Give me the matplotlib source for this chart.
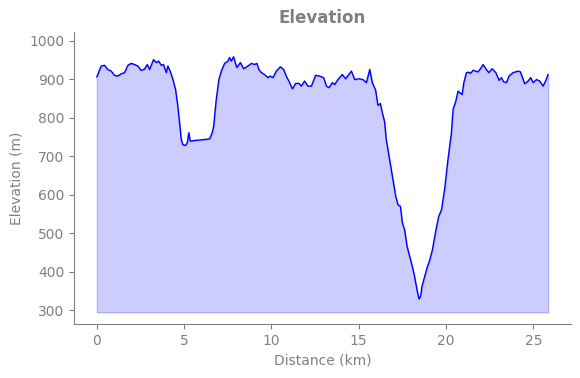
import matplotlib
matplotlib.use("Agg")
import matplotlib.pyplot as plt
import numpy as np

# distance (km) and elevation (m)
distance = [0.00, 0.25, 0.44, 0.63, 0.82, 1.01, 1.20, 1.40, 1.59, 1.78,
            1.97, 2.16, 2.35, 2.54, 2.73, 2.89, 3.02, 3.25, 3.40, 3.54,
            3.69, 3.82, 3.98, 4.07, 4.20, 4.36, 4.51, 4.64, 4.74, 4.84,
            4.93, 5.08, 5.18, 5.27, 5.35, 5.60, 6.08, 6.46, 6.61, 6.69,
            6.84, 6.99, 7.13, 7.32, 7.51, 7.60, 7.70, 7.83, 8.02, 8.22,
            8.41, 8.65, 8.85, 9.04, 9.17, 9.28, 9.42, 9.61, 9.80, 9.94,
            10.09, 10.28, 10.51, 10.70, 10.85, 11.00, 11.20, 11.39, 11.58, 11.71,
            11.90, 12.09, 12.29, 12.53, 12.76, 12.99, 13.15, 13.30, 13.49, 13.62,
            13.81, 14.06, 14.25, 14.58, 14.77, 15.01, 15.24, 15.44, 15.63, 15.78,
            15.97, 16.10, 16.24, 16.35, 16.48, 16.58, 16.77, 16.96, 17.12, 17.25,
            17.39, 17.50, 17.63, 17.77, 17.92, 18.07, 18.20, 18.34, 18.45, 18.55,
            18.62, 18.78, 18.91, 19.07, 19.22, 19.39, 19.58, 19.74, 19.93, 20.11,
            20.21, 20.31, 20.40, 20.56, 20.69, 20.79, 20.92, 21.02, 21.17, 21.32,
            21.40, 21.55, 21.83, 21.97, 22.12, 22.31, 22.45, 22.64, 22.85, 23.04,
            23.17, 23.30, 23.46, 23.61, 23.84, 24.13, 24.26, 24.51, 24.70, 24.85,
            24.99, 25.18, 25.37, 25.56, 25.70, 25.85]
elevation = [906, 934, 936, 925, 921, 910, 908, 914, 917, 936,
             941, 938, 934, 923, 926, 938, 925, 951, 943, 947,
             936, 938, 917, 934, 921, 899, 873, 830, 787, 743,
             730, 728, 735, 761, 739, 741, 743, 745, 761, 778,
             847, 899, 921, 941, 947, 956, 947, 958, 930, 943,
             927, 934, 941, 938, 941, 925, 917, 912, 904, 908,
             904, 921, 932, 925, 908, 895, 875, 889, 889, 882,
             895, 882, 882, 910, 908, 904, 882, 878, 891, 886,
             899, 912, 901, 921, 899, 901, 899, 891, 925, 891,
             871, 832, 837, 813, 790, 743, 691, 639, 596, 574,
             570, 527, 509, 466, 440, 414, 388, 353, 330, 338,
             362, 388, 410, 431, 457, 501, 544, 561, 618, 691,
             726, 761, 821, 843, 869, 865, 860, 891, 917, 918,
             915, 923, 919, 927, 938, 925, 917, 927, 917, 897,
             904, 893, 891, 908, 917, 921, 919, 888, 895, 904,
             891, 899, 895, 882, 895, 912]

d = np.array(distance)
e = np.array(elevation)
base = e.min() - 35

fig = plt.figure(figsize=(5.8, 3.78), dpi=100)
ax = fig.add_axes([0.128, 0.143, 0.856, 0.773])

ax.plot(d, e, color="blue", linewidth=1)
ax.fill_between(d, e, base, color="blue", alpha=0.2)

ax.set_ylim(265, 1023)
ax.set_title("Elevation", color="gray", fontweight="bold", fontsize=12)
ax.set_xlabel("Distance (km)", color="gray")
ax.set_ylabel("Elevation (m)", color="gray")

for s in ["top", "right"]:
    ax.spines[s].set_visible(False)
for s in ["left", "bottom"]:
    ax.spines[s].set_color("gray")
ax.tick_params(colors="gray")

fig.savefig("out.png", dpi=100)
